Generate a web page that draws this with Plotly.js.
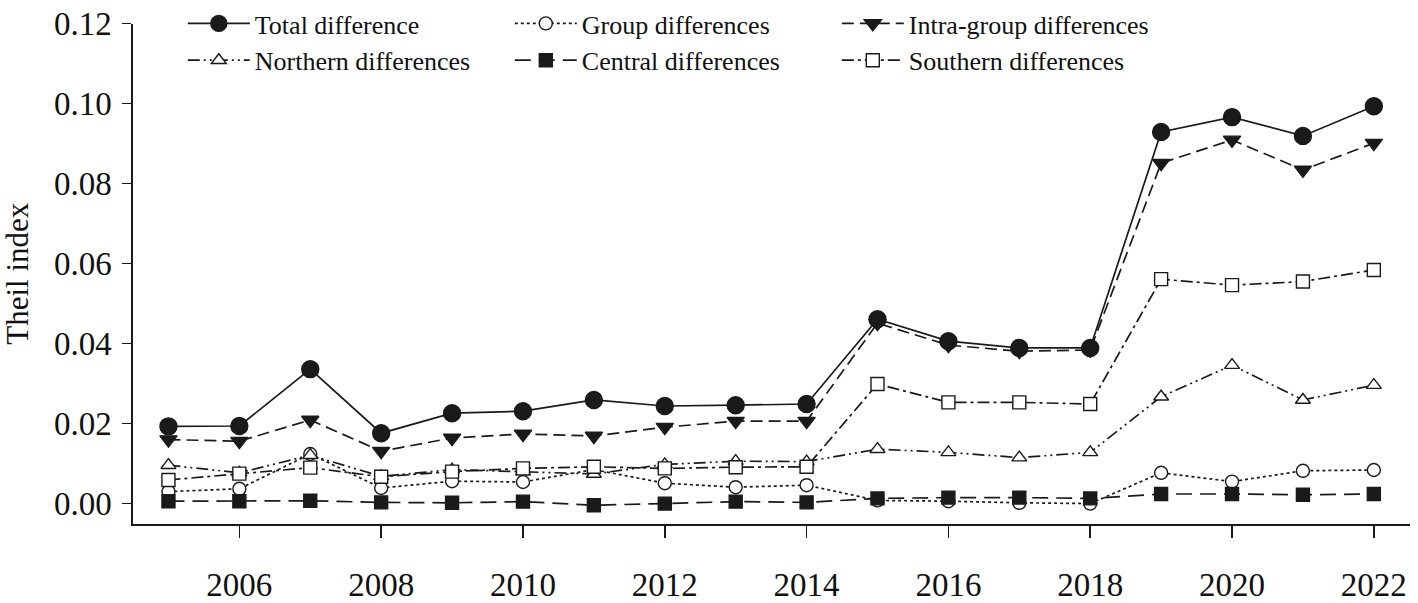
<!DOCTYPE html>
<html>
<head>
<meta charset="utf-8">
<script src="https://cdn.plot.ly/plotly-3.0.1.min.js"></script>
<style>html,body{margin:0;padding:0;background:#fff;}#chart{width:1418px;height:603px;}</style>
</head>
<body>
<div id="chart"></div>
<script>
const years = [2005,2006,2007,2008,2009,2010,2011,2012,2013,2014,2015,2016,2017,2018,2019,2020,2021,2022];
const totalDiff    = [0.0193,0.0194,0.0336,0.0176,0.0226,0.0231,0.0259,0.0244,0.0246,0.0249,0.0461,0.0406,0.0389,0.0389,0.0929,0.0966,0.0919,0.0993];
const groupDiff    = [0.0030,0.0037,0.0124,0.0039,0.0056,0.0054,0.0085,0.0051,0.0041,0.0046,0.0008,0.0006,0.0002,0.0000,0.0077,0.0055,0.0082,0.0084];
const intraDiff    = [0.0160,0.0156,0.0209,0.0131,0.0164,0.0174,0.0169,0.0191,0.0206,0.0206,0.0451,0.0396,0.0381,0.0384,0.0851,0.0909,0.0834,0.0901];
const northernDiff = [0.0096,0.0077,0.0121,0.0068,0.0085,0.0080,0.0074,0.0098,0.0106,0.0105,0.0136,0.0128,0.0115,0.0128,0.0267,0.0346,0.0259,0.0296];
const centralDiff  = [0.0006,0.0006,0.0007,0.0003,0.0002,0.0005,-0.0004,0.0000,0.0005,0.0003,0.0013,0.0015,0.0015,0.0013,0.0024,0.0024,0.0022,0.0024];
const southernDiff = [0.0059,0.0075,0.0090,0.0067,0.0080,0.0088,0.0092,0.0088,0.0091,0.0092,0.0299,0.0253,0.0253,0.0249,0.0561,0.0546,0.0555,0.0584];
const xTicks = [2006,2008,2010,2012,2014,2016,2018,2020,2022];
const yTicks = [0,0.02,0.04,0.06,0.08,0.10,0.12];
const yTickText = ['0.00','0.02','0.04','0.06','0.08','0.10','0.12'];

const ink = '#1a1a1a';
function tr(name, y, dash, symbol, size, fill, rank){
  return {x: years, y: y, name: name, type: 'scatter', mode: 'lines+markers',
    legendrank: rank,
    line: {color: ink, width: 1.7, dash: dash},
    marker: {symbol: symbol, size: size, color: fill, line: {color: ink, width: 1.4}}};
}
const data = [
  tr('Group differences', groupDiff, 'dot', 'circle', 13, '#ffffff', 2),
  tr('Northern differences', northernDiff, '12px,4px,2px,4px,2px,4px', 'triangle-up', 13, '#ffffff', 4),
  tr('Southern differences', southernDiff, '12px,4px,3px,4px', 'square', 13, '#ffffff', 6),
  tr('Central differences', centralDiff, '16px,8px', 'square', 13, ink, 5),
  tr('Intra-group differences', intraDiff, '12px,6px', 'triangle-down', 15, ink, 3),
  tr('Total difference', totalDiff, 'solid', 'circle', 17, ink, 1)
];
const layout = {
  width: 1418, height: 603,
  margin: {l: 133, r: 8, t: 0, b: 79},
  paper_bgcolor: '#fff', plot_bgcolor: '#fff',
  font: {family: '"Liberation Serif", "Times New Roman", serif', color: '#111'},
  showlegend: true,
  legend: {orientation: 'h', x: 0.039, y: 1.0, xanchor: 'left', yanchor: 'top',
    font: {size: 26, family: '"Liberation Serif", serif', color: '#111'},
    entrywidth: 250, entrywidthmode: 'pixels', bgcolor: 'rgba(0,0,0,0)', tracegroupgap: 0, itemwidth: 62},
  xaxis: {range: [2004.5, 2022.51], tickvals: xTicks, ticktext: xTicks.map(String),
    showline: true, linecolor: ink, linewidth: 1.6, ticks: 'outside', ticklen: 12, tickwidth: 1.6, tickcolor: ink,
    showgrid: false, zeroline: false, tickfont: {size: 33}, ticklabelstandoff: 19},
  yaxis: {range: [-0.0051, 0.12], domain: [0, 500.5/524], tickvals: yTicks, ticktext: yTickText,
    showline: true, linecolor: ink, linewidth: 1.6, ticks: 'outside', ticklen: 9, tickwidth: 1.6, tickcolor: ink,
    showgrid: false, zeroline: false, tickfont: {size: 33}, ticklabelstandoff: 4,
    title: {text: 'Theil index', font: {size: 31}, standoff: 16}}
};
Plotly.newPlot('chart', data, layout, {displayModeBar: false, staticPlot: true});
</script>
</body>
</html>
